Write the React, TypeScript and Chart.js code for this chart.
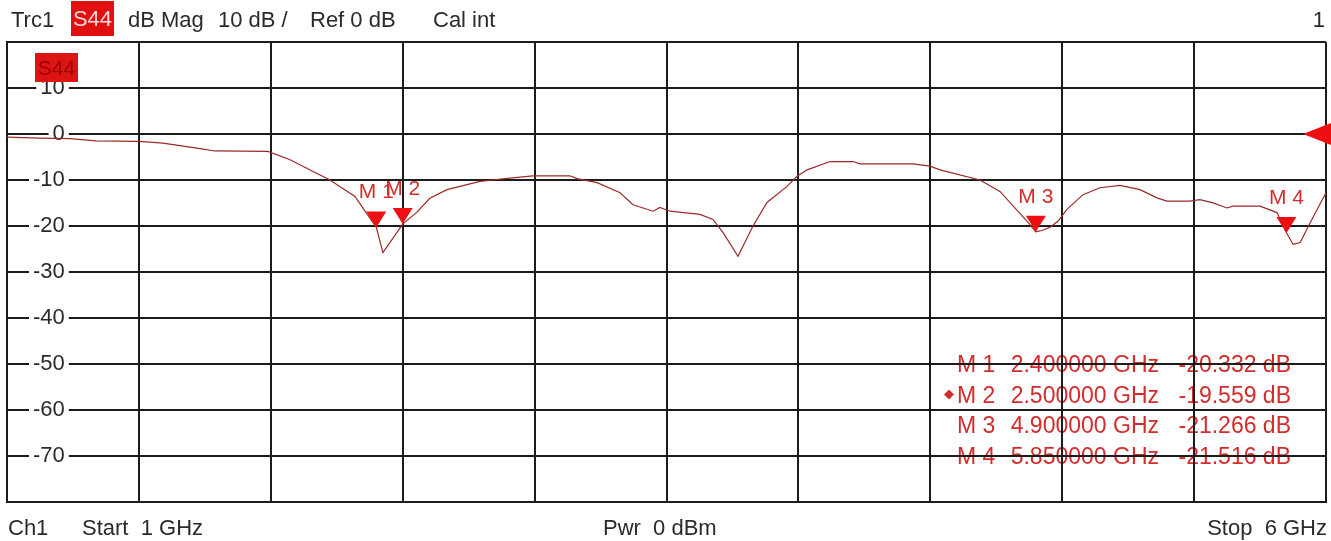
import React, { useEffect, useRef } from 'react';
import { Chart, registerables } from 'chart.js';

Chart.register(...registerables);

const FONT = '"Liberation Sans", Arial, sans-serif';

// Sweep (GHz) and measured S44 magnitude (dB)
const freqGHz = [
  1.000, 1.125, 1.239, 1.337, 1.500, 1.591, 1.732, 1.788, 1.989, 2.073,
  2.224, 2.319, 2.400, 2.425, 2.500, 2.554, 2.603, 2.668, 2.793, 2.907,
  2.994, 3.134, 3.161, 3.237, 3.324, 3.373, 3.449, 3.475, 3.513, 3.627,
  3.676, 3.714, 3.771, 3.828, 3.881, 3.957, 3.995, 4.033, 4.120, 4.207,
  4.234, 4.434, 4.499, 4.537, 4.688, 4.764, 4.867, 4.900, 4.923, 4.954,
  4.984, 5.018, 5.079, 5.143, 5.219, 5.295, 5.359, 5.397, 5.484, 5.522,
  5.572, 5.625, 5.647, 5.750, 5.814, 5.850, 5.875, 5.902, 5.940, 6.000,
];
const s44Db = [
  -0.7, -0.9, -1.0, -1.5, -1.6, -2.0, -3.2, -3.7, -3.8, -5.6,
  -10.0, -13.6, -20.3, -25.8, -19.6, -17.0, -14.0, -12.1, -10.3, -9.6,
  -9.1, -9.1, -9.7, -10.6, -12.8, -15.4, -16.8, -16.0, -16.8, -17.5,
  -18.6, -21.4, -26.6, -20.0, -14.9, -11.4, -9.2, -7.8, -6.0, -6.0,
  -6.5, -6.5, -7.0, -7.8, -10.0, -12.5, -19.0, -21.3, -21.0, -20.3,
  -19.0, -16.4, -13.2, -11.7, -11.2, -12.1, -13.9, -14.6, -14.6, -14.3,
  -15.0, -16.1, -15.7, -15.7, -17.1, -21.5, -24.0, -23.6, -19.3, -12.8,
];

// Axis settings
const startGHz = 1;
const stopGHz = 6;
const freqStep = 0.5;
const yTop = 20;
const yBottom = -80;
const dbPerDiv = 10;
const refLevelDb = 0;

// Markers
const markerNames = ['M 1', 'M 2', 'M 3', 'M 4'];
const markerFreqGHz = [2.4, 2.5, 4.9, 5.85];
const markerDb = [-20.332, -19.559, -21.266, -21.516];
const activeMarker = 1;

// Header / footer texts
const headerTexts = ['Trc1', 'dB Mag', '10 dB /', 'Ref 0 dB', 'Cal int'];
const traceName = 'S44';

const MARK_RED = '#d42c2c';

const vnaPlugin = {
  id: 'vna',
  beforeDraw(chart: any) {
    const { ctx } = chart;
    ctx.save();
    ctx.fillStyle = '#ffffff';
    ctx.fillRect(0, 0, chart.width, chart.height);
    // marker table (drawn under the grid)
    ctx.font = `23px ${FONT}`;
    ctx.fillStyle = MARK_RED;
    ctx.textBaseline = 'alphabetic';
    markerNames.forEach((name, i) => {
      const yb = 372 + i * 30.5;
      ctx.textAlign = 'left';
      ctx.fillText(name, 957, yb);
      ctx.textAlign = 'right';
      ctx.fillText(`${markerFreqGHz[i].toFixed(6)} GHz`, 1159, yb);
      ctx.fillText(`${markerDb[i].toFixed(3)} dB`, 1291, yb);
      if (i === activeMarker) {
        const cx = 949, cy = yb - 8;
        ctx.beginPath();
        ctx.moveTo(cx, cy - 5);
        ctx.lineTo(cx + 5, cy);
        ctx.lineTo(cx, cy + 5);
        ctx.lineTo(cx - 5, cy);
        ctx.closePath();
        ctx.fill();
      }
    });
    ctx.restore();
  },
  afterDatasetsDraw(chart: any) {
    const { ctx, chartArea } = chart;
    const xs = chart.scales.x;
    const ys = chart.scales.y;
    ctx.save();
    // marker labels
    ctx.font = `21px ${FONT}`;
    ctx.fillStyle = MARK_RED;
    ctx.textAlign = 'center';
    ctx.textBaseline = 'alphabetic';
    markerFreqGHz.forEach((f, i) => {
      const px = xs.getPixelForValue(f);
      const py = ys.getPixelForValue(markerDb[i]);
      ctx.fillText(markerNames[i], px, py - 29);
    });
    // marker triangles
    ctx.fillStyle = '#ee1010';
    markerFreqGHz.forEach((f, i) => {
      const px = xs.getPixelForValue(f);
      const py = ys.getPixelForValue(markerDb[i]);
      ctx.beginPath();
      ctx.moveTo(px, py);
      ctx.lineTo(px - 10, py - 16);
      ctx.lineTo(px + 10, py - 16);
      ctx.closePath();
      ctx.fill();
    });
    // reference level arrow at right edge
    const ry = ys.getPixelForValue(refLevelDb);
    ctx.beginPath();
    ctx.moveTo(chart.width, ry - 11);
    ctx.lineTo(chartArea.right - 23, ry);
    ctx.lineTo(chart.width, ry + 11);
    ctx.closePath();
    ctx.fill();
    // trace tag inside diagram
    ctx.fillStyle = '#dc1414';
    ctx.fillRect(chartArea.left + 28, chartArea.top + 11, 43, 29);
    ctx.fillStyle = '#a00000';
    ctx.font = `21px ${FONT}`;
    ctx.textAlign = 'center';
    ctx.fillText(traceName, chartArea.left + 49.5, chartArea.top + 33);
    ctx.restore();
  },
};

export default function App() {
  const canvasRef = useRef<HTMLCanvasElement | null>(null);

  useEffect(() => {
    const canvas = canvasRef.current;
    if (!canvas) return;
    const gridColor = '#1c1c1c';
    const chart = new Chart(canvas, {
      type: 'line',
      data: {
        datasets: [
          {
            label: traceName,
            data: freqGHz.map((f, i) => ({ x: f, y: s44Db[i] })),
            borderColor: '#9a2a2a',
            borderWidth: 1.2,
            pointRadius: 0,
            tension: 0,
            fill: false,
          },
        ],
      },
      options: {
        animation: false,
        responsive: false,
        devicePixelRatio: 1,
        layout: { padding: { left: 7, right: 5, top: 42, bottom: 38 } },
        plugins: {
          legend: { display: false },
          tooltip: { enabled: false },
          title: { display: false },
        },
        scales: {
          x: {
            type: 'linear',
            min: startGHz,
            max: stopGHz,
            ticks: { display: false, stepSize: freqStep },
            grid: { color: gridColor, lineWidth: 2, drawTicks: false },
            border: { display: true, color: gridColor, width: 2 },
          },
          y: {
            type: 'linear',
            min: yBottom,
            max: yTop,
            afterFit: (scale: any) => {
              scale.width = 0;
            },
            ticks: {
              stepSize: dbPerDiv,
              mirror: true,
              crossAlign: 'far',
              padding: 26,
              color: '#2a2a2a',
              font: { family: FONT, size: 22 },
              callback: (v: any) => (v >= yTop || v <= yBottom ? '' : String(v)),
              showLabelBackdrop: (c: any) => c.tick && c.tick.value < yTop && c.tick.value > yBottom,
              backdropColor: '#ffffff',
              backdropPadding: { left: 4, right: 4, top: 0, bottom: 0 },
            },
            grid: { color: gridColor, lineWidth: 2, drawTicks: false },
            border: { display: true, color: gridColor, width: 2 },
          },
        },
      } as any,
      plugins: [vnaPlugin],
    });
    return () => chart.destroy();
  }, []);

  const txt: React.CSSProperties = {
    position: 'absolute',
    whiteSpace: 'pre',
    lineHeight: '24px',
  };

  return (
    <div
      style={{
        position: 'absolute',
        left: 0,
        top: 0,
        width: 1331,
        height: 541,
        background: '#fff',
        fontFamily: FONT,
        fontSize: 22,
        color: '#2a2a2a',
        overflow: 'hidden',
      }}
    >
      <canvas ref={canvasRef} width={1331} height={541} style={{ position: 'absolute', left: 0, top: 0 }} />
      <span style={{ ...txt, left: 11, top: 8 }}>{headerTexts[0]}</span>
      <span
        style={{
          ...txt,
          left: 71,
          top: 1,
          width: 43,
          height: 35,
          lineHeight: '35px',
          textAlign: 'center',
          background: '#e01010',
          color: '#ffd6d6',
        }}
      >
        {traceName}
      </span>
      <span style={{ ...txt, left: 128, top: 8 }}>{headerTexts[1]}</span>
      <span style={{ ...txt, left: 218, top: 8 }}>{headerTexts[2]}</span>
      <span style={{ ...txt, left: 310, top: 8 }}>{headerTexts[3]}</span>
      <span style={{ ...txt, left: 433, top: 8 }}>{headerTexts[4]}</span>
      <span style={{ ...txt, right: 6, top: 8 }}>1</span>
      <span style={{ ...txt, left: 8, top: 516 }}>Ch1</span>
      <span style={{ ...txt, left: 82, top: 516 }}>{`Start  ${startGHz} GHz`}</span>
      <span style={{ ...txt, left: 603, top: 516 }}>{'Pwr  0 dBm'}</span>
      <span style={{ ...txt, right: 4, top: 516 }}>{`Stop  ${stopGHz} GHz`}</span>
    </div>
  );
}
